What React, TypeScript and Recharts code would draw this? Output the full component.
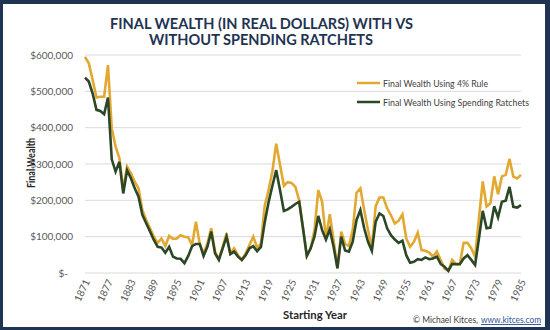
import React from 'react';
import { LineChart, Line, XAxis, YAxis, CartesianGrid } from 'recharts';

// values in thousands of real dollars, one per starting year 1871..1985
const START_YEAR = 1871;

const wealthFourPct = [
  595, 577, 531, 483, 485, 485, 572, 398, 348, 316,
  230, 293, 274, 251, 233, 173, 146, 123, 100, 83,
  95, 74, 102, 94, 95, 104, 100, 98, 77, 141,
  80, 54, 81, 123, 59, 38, 72, 109, 54, 68,
  49, 36, 54, 77, 100, 70, 81, 185, 228, 280,
  356, 297, 240, 250, 248, 237, 200, 123, 47, 68,
  118, 228, 196, 95, 162, 91, 13, 114, 80, 74,
  118, 221, 233, 173, 118, 68, 184, 208, 208, 178,
  159, 136, 144, 161, 95, 72, 86, 111, 63, 61,
  56, 45, 59, 36, 13, 6, 36, 25, 25, 83,
  83, 68, 45, 150, 252, 183, 192, 266, 217, 266,
  270, 314, 265, 260, 270,
];

const wealthRatchets = [
  538, 527, 494, 449, 446, 437, 483, 313, 279, 306,
  219, 283, 261, 233, 210, 160, 137, 114, 91, 72,
  70, 56, 72, 45, 40, 39, 27, 47, 74, 80,
  80, 47, 72, 114, 54, 36, 68, 100, 52, 59,
  45, 36, 49, 68, 74, 60, 72, 140, 195, 240,
  283, 228, 171, 175, 182, 190, 196, 123, 47, 68,
  100, 157, 118, 92, 120, 72, 13, 100, 62, 59,
  86, 146, 173, 123, 86, 61, 141, 164, 157, 123,
  104, 92, 83, 89, 49, 28, 31, 38, 36, 43,
  38, 40, 45, 25, 17, 6, 25, 24, 24, 40,
  49, 36, 22, 95, 171, 123, 125, 184, 153, 196,
  199, 237, 182, 180, 187,
];

const yearTicks = [
  1871, 1877, 1883, 1889, 1895, 1901, 1907, 1913, 1919, 1925,
  1931, 1937, 1943, 1949, 1955, 1961, 1967, 1973, 1979, 1985,
];

const wealthTicks = [0, 100000, 200000, 300000, 400000, 500000, 600000];

const rows = wealthFourPct.map((v, i) => ({
  year: START_YEAR + i,
  rule4: v * 1000,
  ratchet: wealthRatchets[i] * 1000,
}));

const GOLD = '#E2A830';
const GREEN = '#2B4727';
const NAVY = '#1F3352';
const FONT = 'Lato, "Open Sans", sans-serif';

const YTick = (props: any) => {
  const { x, y, payload } = props;
  const v = payload.value as number;
  const label = v === 0 ? '$-' : '$' + v.toLocaleString('en-US');
  return (
    <text x={v === 0 ? x - 9 : x - 4} y={y} dy="0.35em" textAnchor="end" fontSize={10} fill="#595959" fontFamily={FONT}>
      {label}
    </text>
  );
};

const XTick = (props: any) => {
  const { x, y, payload } = props;
  return (
    <g transform={`translate(${x + 2},${y - 1}) rotate(-65)`}>
      <text x={0} y={0} dy="0.35em" textAnchor="end" fontSize={10} fill="#595959" fontFamily={FONT}>
        {payload.value}
      </text>
    </g>
  );
};

export default function App() {
  return (
    <div style={{ position: 'fixed', left: 0, top: 0, width: 550, height: 330, background: NAVY }}>
      <div style={{ position: 'absolute', left: 3, top: 4, width: 542, height: 323, background: '#fff' }} />
      <div style={{ position: 'absolute', left: 0, top: 0 }}>
        <LineChart width={550} height={330} data={rows} margin={{ top: 55, right: 29, bottom: 17, left: 10 }}>
          <CartesianGrid vertical={false} stroke="#d9d9d9" strokeWidth={1} />
          <XAxis
            dataKey="year"
            type="number"
            domain={[1871, 1985]}
            ticks={yearTicks}
            interval={0}
            height={40}
            axisLine={false}
            tickLine={false}
            tick={<XTick />}
          />
          <YAxis
            domain={[0, 600000]}
            ticks={wealthTicks}
            width={75}
            axisLine={false}
            tickLine={false}
            tick={<YTick />}
          />
          <Line type="linear" dataKey="rule4" stroke={GOLD} strokeWidth={2.6} dot={false} isAnimationActive={false} />
          <Line type="linear" dataKey="ratchet" stroke={GREEN} strokeWidth={2.6} dot={false} isAnimationActive={false} />
        </LineChart>
      </div>
      <svg width={550} height={330} style={{ position: 'absolute', left: 0, top: 0, pointerEvents: 'none' }} fontFamily={FONT}>
        <text x={110} y={29} fontSize={15} fontWeight={700} fill={NAVY} textLength={303} lengthAdjust="spacingAndGlyphs">
          FINAL WEALTH (IN REAL DOLLARS) WITH VS
        </text>
        <text x={149} y={45} fontSize={15} fontWeight={700} fill={NAVY} textLength={224} lengthAdjust="spacingAndGlyphs">
          WITHOUT SPENDING RATCHETS
        </text>

        <line x1={357} x2={380} y1={83} y2={83} stroke={GOLD} strokeWidth={2.5} />
        <text x={383} y={86.5} fontSize={9.5} fill="#404040" textLength={105} lengthAdjust="spacingAndGlyphs">
          Final Wealth Using 4% Rule
        </text>
        <line x1={357} x2={380} y1={102} y2={102} stroke={GREEN} strokeWidth={2.5} />
        <text x={383} y={105.5} fontSize={9.5} fill="#404040" textLength={146} lengthAdjust="spacingAndGlyphs">
          Final Wealth Using Spending Ratchets
        </text>

        <text
          x={0}
          y={0}
          transform="translate(35,163) rotate(-90) scale(0.78,1)"
          textAnchor="middle"
          fontSize={11.5}
          fontWeight={700}
          fill="#262626"
        >
          Final Wealth
        </text>
        <text x={283} y={319} fontSize={12} fontWeight={700} fill="#262626" textLength={64} lengthAdjust="spacingAndGlyphs">
          Starting Year
        </text>
        <text x={413} y={323} fontSize={9.5} fill="#404040" textLength={65} lengthAdjust="spacingAndGlyphs">
          © Michael Kitces,
        </text>
        <text x={481} y={323} fontSize={9.5} fill="#2F5597" textDecoration="underline" textLength={60} lengthAdjust="spacingAndGlyphs">
          www.kitces.com
        </text>
      </svg>
    </div>
  );
}
